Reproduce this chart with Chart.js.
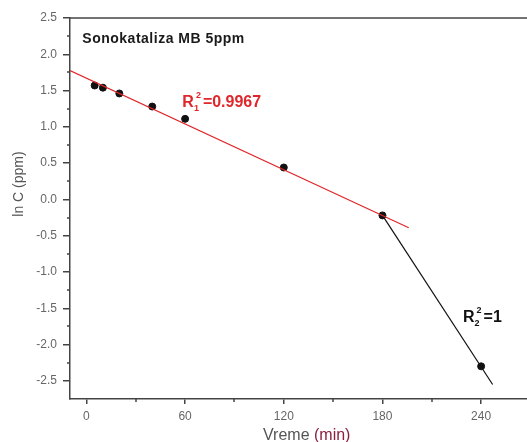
<!DOCTYPE html>
<html>
<head>
<meta charset="utf-8">
<script src="https://cdn.jsdelivr.net/npm/chart.js@4.4.0/dist/chart.umd.min.js"></script>
<style>
html, body { margin: 0; padding: 0; background: #fff; overflow: hidden; }
#wrap { width: 533px; height: 442px; }
</style>
</head>
<body>
<div id="wrap"><canvas id="c"></canvas></div>
<script>
// measured points
var vreme = [5, 10, 20, 40, 60, 120, 180, 240];
var lnC = [1.57, 1.54, 1.46, 1.28, 1.11, 0.44, -0.22, -2.30];
// fitted lines (end points)
var fit1X = [-10, 196];
var fit1Y = [1.775, -0.39];
var fit2X = [180, 247];
var fit2Y = [-0.22, -2.55];
// ticks
var xTicks = [0, 30, 60, 90, 120, 150, 180, 210, 240];
var xLabels = [0, 60, 120, 180, 240];
var yTicks = [-2.5, -2.25, -2, -1.75, -1.5, -1.25, -1, -0.75, -0.5, -0.25, 0, 0.25, 0.5, 0.75, 1, 1.25, 1.5, 1.75, 2, 2.25, 2.5];

function pts(xs, ys) {
  return xs.map(function (v, i) { return { x: v, y: ys[i] }; });
}

function isMajorY(v) { return Math.abs(v * 2 - Math.round(v * 2)) < 1e-6; }
function isMajorX(v) { return xLabels.indexOf(v) >= 0; }

function drawR(ctx, px, py, sub, rest, color) {
  ctx.fillStyle = color;
  ctx.textAlign = 'left';
  ctx.textBaseline = 'alphabetic';
  ctx.font = 'bold 16px Arial';
  ctx.fillText('R', px, py);
  var w = ctx.measureText('R').width;
  ctx.font = 'bold 9px Arial';
  ctx.fillText(sub, px + w, py + 4);
  ctx.fillText('2', px + w + 2, py - 9);
  ctx.font = 'bold 16px Arial';
  ctx.fillText(rest, px + w + 9, py);
}

var texts = {
  id: 'texts',
  afterDraw: function (chart) {
    var ctx = chart.ctx, x = chart.scales.x, y = chart.scales.y, a = chart.chartArea;
    ctx.save();
    // top frame line
    ctx.strokeStyle = '#444';
    ctx.lineWidth = 1.5;
    ctx.beginPath();
    ctx.moveTo(a.left, a.top);
    ctx.lineTo(a.right, a.top);
    // minor ticks
    xTicks.forEach(function (v) {
      if (isMajorX(v)) return;
      var p = Math.round(x.getPixelForValue(v));
      ctx.moveTo(p, a.bottom);
      ctx.lineTo(p, a.bottom + 3);
    });
    yTicks.forEach(function (v) {
      if (isMajorY(v)) return;
      var p = Math.round(y.getPixelForValue(v));
      ctx.moveTo(a.left, p);
      ctx.lineTo(a.left - 3, p);
    });
    ctx.stroke();

    ctx.fillStyle = '#1a1a1a';
    ctx.font = 'bold 14px Arial';
    ctx.textBaseline = 'alphabetic';
    ctx.letterSpacing = '0.5px';
    ctx.fillText('Sonokataliza MB 5ppm', x.getPixelForValue(-2.5), y.getPixelForValue(2.16));
    ctx.letterSpacing = '0px';

    drawR(ctx, x.getPixelForValue(58.3), y.getPixelForValue(1.274), '1', '=0.9967', '#e0262a');
    drawR(ctx, x.getPixelForValue(229), y.getPixelForValue(-1.69), '2', '=1', '#111');

    // axis titles
    ctx.font = '16px Arial';
    ctx.fillStyle = '#555';
    var t1 = 'Vreme ', t2 = '(min)';
    var w1 = ctx.measureText(t1).width;
    var sx = 263;
    ctx.textBaseline = 'alphabetic';
    ctx.fillText(t1, sx, 440);
    ctx.fillStyle = '#8b1f3d';
    ctx.fillText(t2, sx + w1, 440);

    ctx.font = '14px Arial';
    ctx.translate(19, 184);
    ctx.rotate(-Math.PI / 2);
    ctx.fillStyle = '#555';
    ctx.textAlign = 'center';
    ctx.textBaseline = 'middle';
    ctx.fillText('ln C (ppm)', 0, 0);
    ctx.restore();
  }
};

new Chart(document.getElementById('c'), {
  type: 'scatter',
  data: {
    datasets: [
      {
        data: pts(fit1X, fit1Y),
        showLine: true,
        borderColor: '#e0262a',
        borderWidth: 1.2,
        pointRadius: 0
      },
      {
        data: pts(fit2X, fit2Y),
        showLine: true,
        borderColor: '#111',
        borderWidth: 1.2,
        pointRadius: 0
      },
      {
        data: pts(vreme, lnC),
        backgroundColor: '#111',
        borderColor: '#111',
        pointRadius: 3.5
      }
    ]
  },
  options: {
    responsive: true,
    maintainAspectRatio: false,
    animation: false,
    layout: { padding: { top: 18, right: 0, left: 0, bottom: 0 } },
    plugins: {
      legend: { display: false },
      tooltip: { enabled: false }
    },
    scales: {
      x: {
        type: 'linear',
        min: -10,
        max: 268.5,
        afterBuildTicks: function (axis) {
          axis.ticks = xTicks.map(function (v) { return { value: v }; });
        },
        afterFit: function (axis) { axis.height = 43; },
        ticks: {
          autoSkip: false,
          maxRotation: 0,
          padding: 5,
          color: '#666',
          font: { family: 'Arial', size: 12 },
          callback: function (v) { return isMajorX(v) ? String(v) : ''; }
        },
        grid: {
          drawOnChartArea: false,
          drawTicks: true,
          tickLength: 5,
          lineWidth: 1.5,
          color: function (c) { return c.tick && isMajorX(c.tick.value) ? '#444' : 'rgba(0,0,0,0)'; }
        },
        border: { color: '#444', width: 1.5 }
      },
      y: {
        min: -2.75,
        max: 2.5,
        afterBuildTicks: function (axis) {
          axis.ticks = yTicks.map(function (v) { return { value: v }; });
        },
        afterFit: function (axis) { axis.width = 70; },
        ticks: {
          autoSkip: false,
          padding: 6,
          color: '#666',
          font: { family: 'Arial', size: 12 },
          callback: function (v) { return isMajorY(v) ? v.toFixed(1) : ''; }
        },
        grid: {
          drawOnChartArea: false,
          drawTicks: true,
          tickLength: 7,
          lineWidth: 1.5,
          color: function (c) { return c.tick && isMajorY(c.tick.value) ? '#444' : 'rgba(0,0,0,0)'; }
        },
        border: { color: '#444', width: 1.5 }
      }
    }
  },
  plugins: [texts]
});
</script>
</body>
</html>
